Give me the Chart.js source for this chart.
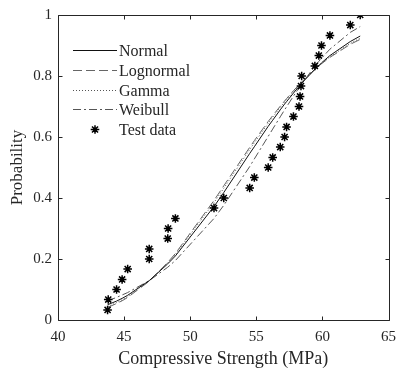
<!DOCTYPE html>
<html>
<head>
<meta charset="utf-8">
<script src="https://cdn.jsdelivr.net/npm/chart.js@4.4.1/dist/chart.umd.min.js"></script>
<style>
  html, body { margin: 0; padding: 0; background: #fff; }
  #wrap { width: 404px; height: 375px; }
</style>
</head>
<body>
<div id="wrap"><canvas id="cdfChart" width="404" height="375"></canvas></div>
<script>
// Ensaios de resistência à compressão (MPa) e probabilidade acumulada
const strength = [43.75, 43.8, 44.43, 44.85, 45.27, 46.9, 46.9, 48.3, 48.33, 48.88,
                  51.8, 52.54, 54.5, 54.85, 55.9, 56.24, 56.81, 57.14, 57.29, 57.81,
                  58.23, 58.31, 58.38, 58.43, 59.43, 59.73, 59.93, 60.57, 62.11, 62.86];
const probability = [0.033, 0.067, 0.1, 0.133, 0.167, 0.2, 0.233, 0.267, 0.3, 0.333,
                     0.367, 0.4, 0.433, 0.467, 0.5, 0.533, 0.567, 0.6, 0.633, 0.667,
                     0.7, 0.733, 0.767, 0.8, 0.833, 0.867, 0.9, 0.933, 0.967, 1.0];

// Curvas ajustadas (pontos nos valores distintos de resistência)
const fitStrength = [43.75, 44.43, 44.85, 45.27, 46.9, 48.3, 48.88, 51.8, 52.54, 54.5,
                     54.85, 55.9, 56.24, 56.81, 57.14, 57.29, 57.81, 58.23, 58.43, 59.43,
                     59.73, 59.93, 60.57, 62.11, 62.86];
const normalCdf = [0.050, 0.062, 0.071, 0.081, 0.129, 0.184, 0.210, 0.372, 0.418, 0.546,
                   0.568, 0.635, 0.655, 0.689, 0.708, 0.716, 0.744, 0.766, 0.776, 0.822,
                   0.834, 0.843, 0.867, 0.913, 0.931];
const lognormalCdf = [0.041, 0.054, 0.063, 0.074, 0.127, 0.189, 0.218, 0.392, 0.440, 0.566,
                      0.588, 0.651, 0.670, 0.701, 0.718, 0.726, 0.752, 0.771, 0.780, 0.821,
                      0.833, 0.840, 0.861, 0.904, 0.920];
const gammaCdf = [0.044, 0.057, 0.066, 0.077, 0.128, 0.187, 0.215, 0.385, 0.432, 0.559,
                  0.581, 0.645, 0.665, 0.697, 0.715, 0.723, 0.749, 0.769, 0.779, 0.822,
                  0.833, 0.841, 0.863, 0.907, 0.924];
const weibullCdf = [0.063, 0.074, 0.082, 0.090, 0.129, 0.173, 0.195, 0.333, 0.376, 0.503,
                    0.528, 0.602, 0.626, 0.666, 0.689, 0.699, 0.734, 0.761, 0.774, 0.832,
                    0.848, 0.858, 0.888, 0.943, 0.962];

const xTicks = [40, 45, 50, 55, 60, 65];
const yTicks = [0, 0.2, 0.4, 0.6, 0.8, 1];

const FONT = "'Liberation Serif', 'Times New Roman', serif";
const INK = '#262626';

function pontos(xs, ys) {
    return xs.map((x, i) => ({ x: x, y: ys[i] }));
}

function curva(label, ys, dash, cor) {
    return {
        label: label,
        data: pontos(fitStrength, ys),
        borderColor: cor,
        borderWidth: 1,
        borderDash: dash,
        pointRadius: 0,
        tension: 0,
        fill: false,
        order: 2
    };
}

const datasets = [
    curva('Normal', normalCdf, [], '#111'),
    curva('Lognormal', lognormalCdf, [9, 4], '#666'),
    curva('Gamma', gammaCdf, [1, 2], '#555'),
    curva('Weibull', weibullCdf, [8, 3, 2, 3], '#555'),
    {
        label: 'Test data',
        data: pontos(strength, probability),
        showLine: false,
        pointStyle: 'star',
        pointRadius: 4.3,
        pointBorderWidth: 1.5,
        pointBorderColor: '#000',
        pointBackgroundColor: '#000',
        order: 1
    }
];

// Caixa dos eixos com marcas internas nos quatro lados
const caixaEixos = {
    id: 'caixaEixos',
    afterDatasetsDraw(chart) {
        const { ctx, chartArea: a, scales } = chart;
        const l = Math.round(a.left) + 0.5, r = Math.round(a.right) + 0.5;
        const t = Math.round(a.top) + 0.5, b = Math.round(a.bottom) + 0.5;
        ctx.save();
        ctx.strokeStyle = INK;
        ctx.lineWidth = 1;
        ctx.setLineDash([]);
        ctx.beginPath();
        ctx.rect(l, t, r - l, b - t);
        xTicks.forEach(v => {
            const px = Math.round(scales.x.getPixelForValue(v)) + 0.5;
            ctx.moveTo(px, b); ctx.lineTo(px, b - 4);
            ctx.moveTo(px, t); ctx.lineTo(px, t + 4);
        });
        yTicks.forEach(v => {
            const py = Math.round(scales.y.getPixelForValue(v)) + 0.5;
            ctx.moveTo(l, py); ctx.lineTo(l + 4, py);
            ctx.moveTo(r, py); ctx.lineTo(r - 4, py);
        });
        ctx.stroke();
        ctx.restore();
    }
};

// Legenda dentro da área do gráfico, sem moldura
const legendaInterna = {
    id: 'legendaInterna',
    afterDraw(chart) {
        const ctx = chart.ctx;
        const x0 = 73, x1 = 117, y0 = 50, passo = 19.75;
        ctx.save();
        ctx.font = '16px ' + FONT;
        ctx.textBaseline = 'middle';
        chart.data.datasets.forEach((ds, i) => {
            const y = Math.round(y0 + i * passo) + 0.5;
            if (ds.showLine === false) {
                ctx.strokeStyle = '#000';
                ctx.fillStyle = '#000';
                ctx.lineWidth = 1.5;
                Chart.helpers.drawPoint(ctx, {
                    pointStyle: 'star', radius: 4.3, borderWidth: 1.5
                }, (x0 + x1) / 2, y);
            } else {
                ctx.strokeStyle = ds.borderColor;
                ctx.lineWidth = 1;
                ctx.setLineDash(ds.borderDash);
                ctx.beginPath();
                ctx.moveTo(x0, y);
                ctx.lineTo(x1, y);
                ctx.stroke();
                ctx.setLineDash([]);
            }
            ctx.fillStyle = INK;
            ctx.fillText(ds.label, x1 + 2, y + 1);
        });
        ctx.restore();
    }
};

const ctx = document.getElementById('cdfChart').getContext('2d');

new Chart(ctx, {
    type: 'line',
    data: { datasets: datasets },
    options: {
        responsive: false,
        animation: false,
        layout: { padding: { left: 0, right: 11, top: 12, bottom: 0 } },
        plugins: {
            legend: { display: false },
            tooltip: { enabled: false }
        },
        scales: {
            x: {
                type: 'linear',
                min: 40,
                max: 65,
                grid: { display: false, drawTicks: false },
                border: { display: false },
                ticks: {
                    stepSize: 5,
                    padding: 8,
                    color: INK,
                    font: { family: FONT, size: 15 }
                },
                title: {
                    display: true,
                    text: 'Compressive Strength (MPa)',
                    color: INK,
                    padding: { top: 2, bottom: 5 },
                    font: { family: FONT, size: 18 }
                },
                afterFit(scale) { scale.height = 55; }
            },
            y: {
                min: 0,
                max: 1,
                grid: { display: false, drawTicks: false },
                border: { display: false },
                ticks: {
                    stepSize: 0.2,
                    padding: 6,
                    color: INK,
                    font: { family: FONT, size: 15 },
                    callback: v => (v === 0 || v === 1) ? String(v) : v.toFixed(1)
                },
                title: {
                    display: true,
                    text: 'Probability',
                    color: INK,
                    padding: { top: 7, bottom: 0 },
                    font: { family: FONT, size: 17 }
                },
                afterFit(scale) { scale.width = 58; }
            }
        }
    },
    plugins: [caixaEixos, legendaInterna]
});
</script>
</body>
</html>
